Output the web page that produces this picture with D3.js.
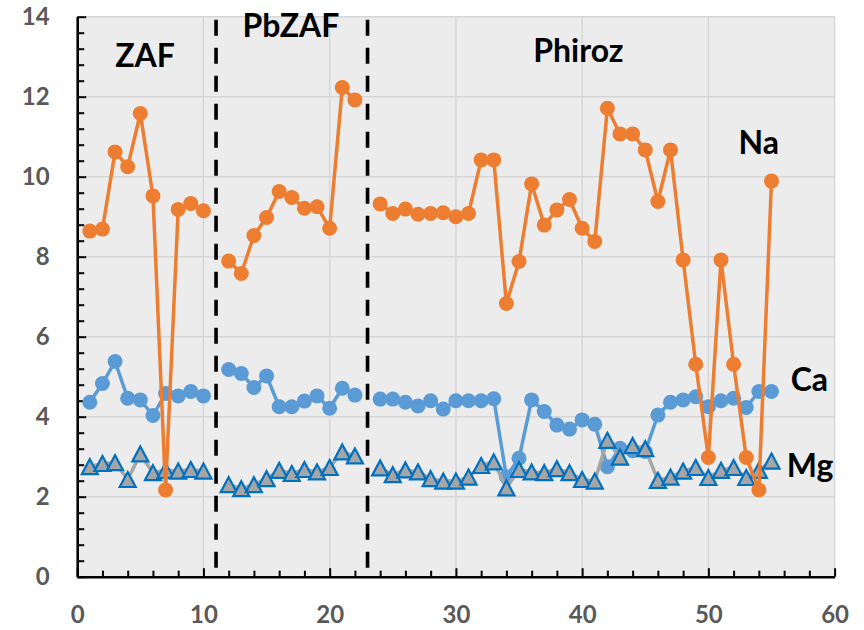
<!DOCTYPE html>
<html>
<head>
<meta charset="utf-8">
<script src="https://cdn.jsdelivr.net/npm/d3@7"></script>
<style>
  html, body { margin: 0; padding: 0; background: #ffffff; }
  svg { display: block; font-family: Lato, "Open Sans", "DejaVu Sans", sans-serif; }
</style>
</head>
<body>
<svg id="chart" width="864" height="630"></svg>
<script>
// Sample number 1..55; 11 and 23 separate the three correction methods (no data).
const sampleIds = d3.range(1, 56);

const naValues = [
  8.64, 8.69, 10.62, 10.25, 11.58, 9.52, 2.17, 9.18, 9.33, 9.15,
  null,
  7.89, 7.58, 8.53, 8.98, 9.63, 9.48, 9.21, 9.25, 8.71, 12.23, 11.92,
  null,
  9.32, 9.08, 9.19, 9.06, 9.08, 9.10, 9.00, 9.08, 10.42, 10.42,
  6.83, 7.88, 9.82, 8.79, 9.17, 9.43, 8.71, 8.38, 11.71, 11.07,
  11.07, 10.67, 9.38, 10.67, 7.92, 5.31, 2.98, 7.92, 5.31, 2.98,
  2.17, 9.89
];

const caValues = [
  4.36, 4.83, 5.38, 4.46, 4.42, 4.03, 4.58, 4.52, 4.63, 4.52,
  null,
  5.18, 5.08, 4.73, 5.02, 4.25, 4.25, 4.39, 4.52, 4.21, 4.71, 4.54,
  null,
  4.44, 4.44, 4.36, 4.27, 4.40, 4.19, 4.40, 4.40, 4.40, 4.45,
  2.50, 2.96, 4.42, 4.13, 3.79, 3.69, 3.92, 3.81, 2.75, 3.21,
  3.15, 3.13, 4.04, 4.36, 4.42, 4.50, 4.25, 4.40, 4.46, 4.23,
  4.63, 4.63
];

const mgValues = [
  2.75, 2.83, 2.85, 2.43, 3.07, 2.60, 2.66, 2.64, 2.68, 2.64,
  null,
  2.30, 2.20, 2.30, 2.45, 2.66, 2.58, 2.68, 2.62, 2.73, 3.12, 3.02,
  null,
  2.72, 2.55, 2.67, 2.62, 2.45, 2.39, 2.39, 2.49, 2.78, 2.87,
  2.22, 2.68, 2.62, 2.60, 2.70, 2.60, 2.43, 2.39, 3.41, 2.99,
  3.28, 3.20, 2.41, 2.49, 2.64, 2.73, 2.48, 2.66, 2.73, 2.48,
  2.66, 2.89
];

// Boundaries between the method groups
const dividers = [11, 23];

// Method names and where they sit (data coordinates)
const groupLabels = [
  { text: "ZAF",    x: 5.38,  y: 12.75 },
  { text: "PbZAF",  x: 16.93, y: 13.49 },
  { text: "Phiroz", x: 39.7,  y: 12.87 }
];

// Element names beside their series
const seriesLabels = [
  { text: "Na", x: 54.0,  y: 10.57 },
  { text: "Ca", x: 58.0,  y: 4.64 },
  { text: "Mg", x: 58.06, y: 2.49 }
];

const xTicks = [0, 10, 20, 30, 40, 50, 60];
const yTicks = [0, 2, 4, 6, 8, 10, 12, 14];

// ---- layout ----
const width = 864, height = 630;
const margin = { top: 16.7, right: 29.4, bottom: 53.3, left: 77.2 };
const innerW = width - margin.left - margin.right;
const innerH = height - margin.top - margin.bottom;

const svg = d3.select("#chart");
const g = svg.append("g").attr("transform", `translate(${margin.left},${margin.top})`);

const x = d3.scaleLinear().domain([0, 60]).range([0, innerW]);
const y = d3.scaleLinear().domain([0, 14]).range([innerH, 0]);

// plot background
g.append("rect")
  .attr("width", innerW).attr("height", innerH)
  .attr("fill", "#ececec");

// gridlines
g.append("g").selectAll("line").data(yTicks.filter(v => v > 0)).join("line")
  .attr("x1", 0).attr("x2", innerW)
  .attr("y1", d => y(d)).attr("y2", d => y(d))
  .attr("stroke", "#d6d6d6").attr("stroke-width", 1.5);
g.append("g").selectAll("line").data(xTicks.filter(v => v > 0)).join("line")
  .attr("y1", 0).attr("y2", innerH)
  .attr("x1", d => x(d)).attr("x2", d => x(d))
  .attr("stroke", "#d6d6d6").attr("stroke-width", 1.5);

// dashed dividers between methods
g.append("g").selectAll("line").data(dividers).join("line")
  .attr("x1", d => x(d)).attr("x2", d => x(d))
  .attr("y1", y(14)).attr("y2", y(0) - 8)
  .attr("stroke", "#000").attr("stroke-width", 3.6)
  .attr("stroke-dasharray", "16,12")
  .attr("stroke-dashoffset", 25);

// ---- axes ----
const labelFont = "bold 24px Lato, 'Open Sans', sans-serif";

function styleAxis(sel) {
  sel.select(".domain").attr("stroke", "#000").attr("stroke-width", 2.6);
  sel.selectAll(".tick line").attr("stroke", "#000").attr("stroke-width", 2);
  sel.selectAll(".tick text")
    .attr("fill", "#595959")
    .style("font", labelFont);
}

const xMinor = d3.range(0, 61, 2).filter(v => v % 10 !== 0);
const yMinor = d3.range(0, 14.01, 0.4).map(v => +v.toFixed(1)).filter(v => Math.abs(v / 2 - Math.round(v / 2)) > 1e-6);

g.append("g").attr("transform", `translate(0,${innerH})`)
  .call(d3.axisBottom(x).tickValues(xMinor).tickSizeInner(-6).tickSizeOuter(0).tickFormat(""))
  .call(s => { s.select(".domain").remove(); s.selectAll(".tick line").attr("stroke", "#000").attr("stroke-width", 2); });

g.append("g").attr("transform", `translate(0,${innerH})`)
  .call(d3.axisBottom(x).tickValues(xTicks).tickSizeInner(-8.5).tickSizeOuter(0).tickPadding(29).tickFormat(d3.format("d")))
  .call(styleAxis);

g.append("g")
  .call(d3.axisLeft(y).tickValues(yMinor).tickSizeInner(-7).tickSizeOuter(0).tickFormat(""))
  .call(s => { s.select(".domain").remove(); s.selectAll(".tick line").attr("stroke", "#000").attr("stroke-width", 2); });

g.append("g")
  .call(d3.axisLeft(y).tickValues(yTicks).tickSizeInner(-9).tickSizeOuter(0).tickPadding(27.5).tickFormat(d3.format("d")))
  .call(styleAxis);

// ---- series ----
const line = d3.line()
  .defined(d => d.v != null)
  .x(d => x(d.id))
  .y(d => y(d.v));

function pairs(values) {
  return sampleIds.map((id, i) => ({ id, v: values[i] }));
}

// Triangle marker, centred on its bounding box
const triW = 16, triH = 15;
const triPath = `M0,${-triH / 2}L${triW / 2},${triH / 2}L${-triW / 2},${triH / 2}Z`;

// Ca (blue circles)
const caData = pairs(caValues);
const caG = g.append("g");
caG.append("path").datum(caData).attr("d", line)
  .attr("fill", "none").attr("stroke", "#5b9bd5").attr("stroke-width", 3.5).attr("stroke-linejoin", "round");
caG.selectAll("circle").data(caData.filter(d => d.v != null)).join("circle")
  .attr("cx", d => x(d.id)).attr("cy", d => y(d.v)).attr("r", 7.5)
  .attr("fill", "#5b9bd5");

// Mg (grey triangles with blue outline)
const mgData = pairs(mgValues);
const mgG = g.append("g");
mgG.append("path").datum(mgData).attr("d", line)
  .attr("fill", "none").attr("stroke", "#a5a5a5").attr("stroke-width", 3.5).attr("stroke-linejoin", "round");
mgG.selectAll("path.tri").data(mgData.filter(d => d.v != null)).join("path")
  .attr("class", "tri")
  .attr("d", triPath)
  .attr("transform", d => `translate(${x(d.id)},${y(d.v)})`)
  .attr("fill", "#a5a5a5").attr("stroke", "#0070c0").attr("stroke-width", 2.2).attr("stroke-linejoin", "miter");

// Na (orange circles)
const naData = pairs(naValues);
const naG = g.append("g");
naG.append("path").datum(naData).attr("d", line)
  .attr("fill", "none").attr("stroke", "#ed7d31").attr("stroke-width", 3.5).attr("stroke-linejoin", "round");
naG.selectAll("circle").data(naData.filter(d => d.v != null)).join("circle")
  .attr("cx", d => x(d.id)).attr("cy", d => y(d.v)).attr("r", 7.5)
  .attr("fill", "#ed7d31");

// ---- annotations ----
g.append("g").selectAll("text").data(groupLabels.concat(seriesLabels)).join("text")
  .attr("x", d => x(d.x)).attr("y", d => y(d.y))
  .attr("text-anchor", "middle")
  .attr("fill", "#000")
  .style("font", "bold 32px Lato, 'Open Sans', sans-serif")
  .text(d => d.text);
</script>
</body>
</html>
